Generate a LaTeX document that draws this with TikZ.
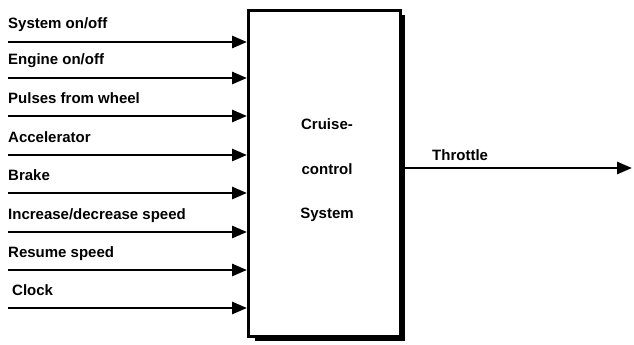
\documentclass[tikz,border=0pt]{standalone}
\usepackage{fontspec}
\setmainfont{Liberation Sans}
\usetikzlibrary{arrows.meta}
\begin{document}
\begin{tikzpicture}[x=1pt,y=-1pt,
  lbl/.style={font=\bfseries\fontsize{15}{17}\selectfont, anchor=base west, inner sep=0pt},
  sig/.style={line width=2.8pt, -{Triangle[length=15pt,width=12pt]}},
  mid/.style={font=\bfseries\fontsize{15}{17}\selectfont, anchor=base, inner sep=0pt}]
\useasboundingbox (0,0) rectangle (634,345);
% drop shadow of the controller box
\fill[black] (255,15) rectangle (405,341);
% the controller box
\node[draw, line width=2.6pt, fill=white, minimum width=152pt, minimum height=326pt, inner sep=0pt, anchor=north west] (sys) at (247,9) {};
\node[mid] (t1) at (327,129) {Cruise-};
\node[mid] (t2) at (327,174) {control};
\node[mid] (t3) at (327,218) {System};
% inputs with their labels
\foreach \i/\y/\dx/\txt in {1/42/0/System on\slash off, 2/78/0/Engine on\slash off, 3/116/0/Pulses from wheel, 4/155/0/Accelerator, 5/193/0/Brake, 6/232/0/Increase\slash decrease speed, 7/270/0/Resume speed, 8/308/4/Clock}{
  \coordinate (s\i) at (8,\y);
  \coordinate (e\i) at (sys.west |- s\i);
  \draw[sig] (s\i) -- (e\i);
  \node[lbl] (l\i) at (8+\dx,\y-13) {\txt};
}
% output
\coordinate (out) at (632,168);
\draw[sig] (sys.east |- out) -- (out);
\node[lbl] (lo) at (432,160) {Throttle};
\end{tikzpicture}
\end{document}
